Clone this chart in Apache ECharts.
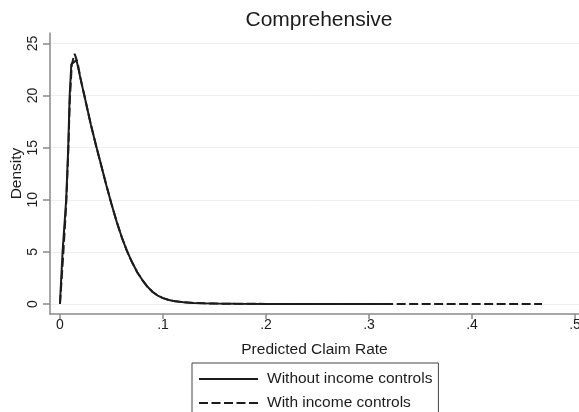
<!DOCTYPE html>
<html>
<head>
<meta charset="utf-8">
<script src="https://cdn.jsdelivr.net/npm/echarts@6/dist/echarts.min.js"></script>
<style>
  html, body { margin: 0; padding: 0; background: #fff; }
  #chart { width: 579px; height: 412px; }
</style>
</head>
<body>
<div id="chart"></div>
<script>
// Kernel density of the predicted claim rate, Comprehensive coverage
const titleText = 'Comprehensive';
const xName = 'Predicted Claim Rate';
const yName = 'Density';

const xTicks = [0, 0.1, 0.2, 0.3, 0.4, 0.5];
const xTickLabels = ['0', '.1', '.2', '.3', '.4', '.5'];
const yTicks = [0, 5, 10, 15, 20, 25];

const seriesNames = ['Without income controls', 'With income controls'];

// [claim rate, density]
const withoutIncome = [
  [0.000, 0.1], [0.0025, 5.0], [0.006, 10.0], [0.008, 15.0], [0.0094, 20.0],
  [0.011, 23.0], [0.016, 23.4], [0.020, 21.6], [0.025, 19.4], [0.030, 17.2],
  [0.035, 15.2], [0.040, 13.3], [0.045, 11.4], [0.050, 9.6], [0.055, 7.9],
  [0.060, 6.4], [0.065, 5.1], [0.070, 4.0], [0.075, 3.05], [0.080, 2.3],
  [0.085, 1.65], [0.090, 1.15], [0.095, 0.8], [0.100, 0.56], [0.105, 0.4],
  [0.110, 0.29], [0.120, 0.17], [0.130, 0.1], [0.140, 0.06], [0.150, 0.04],
  [0.170, 0.02], [0.200, 0.01], [0.250, 0.005], [0.316, 0.002]
];

const withIncome = [
  [0.000, 0.0], [0.003, 4.5], [0.006, 9.5], [0.008, 14.5], [0.0095, 19.5],
  [0.0115, 23.0], [0.0142, 24.0], [0.017, 23.2], [0.020, 21.6], [0.025, 19.4],
  [0.030, 17.2], [0.035, 15.2], [0.040, 13.3], [0.045, 11.4], [0.050, 9.6],
  [0.055, 7.9], [0.060, 6.4], [0.065, 5.1], [0.070, 4.0], [0.075, 3.05],
  [0.080, 2.3], [0.085, 1.65], [0.090, 1.15], [0.095, 0.8], [0.100, 0.56],
  [0.105, 0.4], [0.110, 0.29], [0.120, 0.17], [0.130, 0.1], [0.140, 0.06],
  [0.150, 0.04], [0.170, 0.02], [0.200, 0.01], [0.250, 0.005], [0.300, 0.003],
  [0.350, 0.002], [0.400, 0.001], [0.468, 0.001]
];

const FONT = 'Liberation Sans, Arial, Helvetica, sans-serif';
const INK = '#1c1c1c';
const AXIS = '#8a8a8a';

const chart = echarts.init(document.getElementById('chart'), null, { renderer: 'canvas' });

chart.setOption({
  animation: false,
  backgroundColor: '#ffffff',
  title: {
    text: titleText,
    left: 314,
    textAlign: 'center',
    top: 5,
    textStyle: { fontFamily: FONT, fontSize: 21, fontWeight: 'normal', color: INK }
  },
  grid: { left: 50, right: 0, top: 33, bottom: 98, containLabel: false, outerBoundsMode: 'none' },
  xAxis: {
    type: 'value',
    min: -0.0097,
    max: 0.5039,
    name: xName,
    nameLocation: 'middle',
    nameGap: 28,
    nameMoveOverlap: false,
    nameTextStyle: { fontFamily: FONT, fontSize: 15.5, color: INK },
    axisLine: { show: true, onZero: false, lineStyle: { color: AXIS, width: 1.5 } },
    axisTick: { show: true, length: 5, customValues: xTicks, lineStyle: { color: AXIS, width: 1.5 } },
    axisLabel: {
      customValues: xTicks,
      margin: 4,
      fontFamily: FONT, fontSize: 14, color: INK,
      formatter: v => {
        const i = xTicks.findIndex(t => Math.abs(t - v) < 1e-9);
        return i >= 0 ? xTickLabels[i] : '';
      }
    },
    splitLine: { show: false }
  },
  yAxis: {
    type: 'value',
    min: -0.96,
    max: 26,
    name: yName,
    nameLocation: 'middle',
    nameGap: 25,
    nameMoveOverlap: false,
    nameRotate: 90,
    nameTextStyle: { fontFamily: FONT, fontSize: 15.5, color: INK },
    axisLine: { show: true, onZero: false, lineStyle: { color: AXIS, width: 1.5 } },
    axisTick: { show: true, length: 7, customValues: yTicks, lineStyle: { color: AXIS, width: 1.5 } },
    axisLabel: {
      customValues: yTicks,
      rotate: 90,
      margin: 10,
      fontFamily: FONT, fontSize: 14, color: INK
    },
    splitLine: { show: true, customValues: yTicks, lineStyle: { color: '#eeeeee', width: 1 } }
  },
  legend: {
    show: true,
    orient: 'vertical',
    left: 192,
    top: 363,
    height: 80,
    padding: [8, 6, 8, 6],
    borderColor: '#444',
    borderWidth: 1,
    borderRadius: 0,
    itemWidth: 59,
    itemHeight: 14,
    itemGap: 8,
    itemStyle: { color: 'rgba(0,0,0,0)', borderColor: 'rgba(0,0,0,0)', borderWidth: 0 },
    textStyle: { fontFamily: FONT, fontSize: 15.5, color: INK, padding: [0, 0, 0, 4] },
    data: seriesNames
  },
  series: [
    {
      name: seriesNames[0],
      type: 'line',
      data: withoutIncome,
      showSymbol: false,
      symbol: 'none',
      lineStyle: { color: INK, width: 2, type: 'solid' },
      itemStyle: { color: INK },
      z: 2
    },
    {
      name: seriesNames[1],
      type: 'line',
      data: withIncome,
      showSymbol: false,
      symbol: 'none',
      lineStyle: { color: INK, width: 2, type: [9, 3.5] },
      itemStyle: { color: INK },
      z: 3
    }
  ]
});
</script>
</body>
</html>
